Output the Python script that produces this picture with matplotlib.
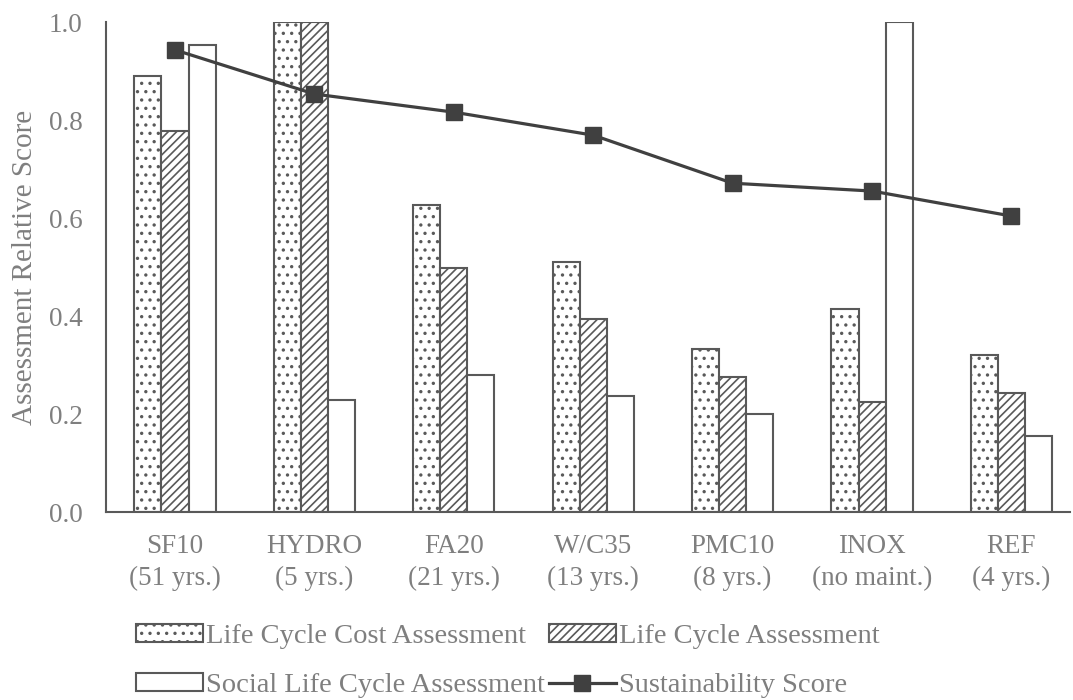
import numpy as np
import matplotlib.pyplot as plt

plt.rcParams['font.family'] = ['Liberation Serif', 'DejaVu Serif']
plt.rcParams['hatch.linewidth'] = 1.2

# data
cats = ['SF10\n(51 yrs.)', 'HYDRO\n(5 yrs.)', 'FA20\n(21 yrs.)', 'W/C35\n(13 yrs.)',
        'PMC10\n(8 yrs.)', 'INOX\n(no maint.)', 'REF\n(4 yrs.)']
lcc = [0.89, 1.0, 0.627, 0.51, 0.333, 0.414, 0.32]
lca = [0.778, 1.0, 0.498, 0.394, 0.276, 0.224, 0.243]
slca = [0.953, 0.229, 0.28, 0.237, 0.2, 1.0, 0.155]
score = [0.943, 0.853, 0.816, 0.769, 0.671, 0.655, 0.604]

edge = '#595959'
txt = '#7f7f7f'

fig = plt.figure(figsize=(10.73, 7.0), dpi=100)
ax = fig.add_axes([106/1073, 188/700, (1070-106)/1073, 490/700])

x = np.arange(len(cats))
w = 0.194
b1 = ax.bar(x - w, lcc, w, color='white', edgecolor=edge, hatch='..', linewidth=1.5,
            label='Life Cycle Cost Assessment')
b2 = ax.bar(x, lca, w, color='white', edgecolor=edge, hatch='////', linewidth=1.5,
            label='Life Cycle Assessment')
b3 = ax.bar(x + w, slca, w, color='white', edgecolor=edge, linewidth=1.5,
            label='Social Life Cycle Assessment')
ln, = ax.plot(x, score, color='#404040', lw=2.3, marker='s', markersize=12,
              label='Sustainability Score', zorder=5)

ax.set_xlim(-0.495, 6.42)
ax.set_ylim(0, 1.0)
ax.set_yticks([0, 0.2, 0.4, 0.6, 0.8, 1.0])
ax.set_yticklabels(['0.0', '0.2', '0.4', '0.6', '0.8', '1.0'])
ax.set_xticks(x)
ax.set_xticklabels(cats, linespacing=1.35)
ax.tick_params(axis='both', length=0, labelsize=19.5, colors=txt)
ax.tick_params(axis='x', pad=16)
ax.tick_params(axis='y', pad=17)
for s in ['top', 'right']:
    ax.spines[s].set_visible(False)
for s in ['left', 'bottom']:
    ax.spines[s].set_color(edge)
    ax.spines[s].set_linewidth(1.5)
ax.set_ylabel('Assessment Relative Score', fontsize=21, color=txt)
ax.yaxis.set_label_coords(-0.071, 0.5)

# legend is filled column-wise, so order handles to read row-wise
handles = [b1, b3, b2, ln]
labels = [h.get_label() for h in handles]
fig.legend(handles, labels, loc='upper left', bbox_to_anchor=(136/1073, 1 - 624/700),
           ncol=2, frameon=False, fontsize=20.5, labelcolor=txt, handlelength=2.35,
           handleheight=0.6, handletextpad=0.1, columnspacing=0.15,
           labelspacing=0.85, borderaxespad=0, borderpad=0)

fig.savefig('out.png', dpi=100)
